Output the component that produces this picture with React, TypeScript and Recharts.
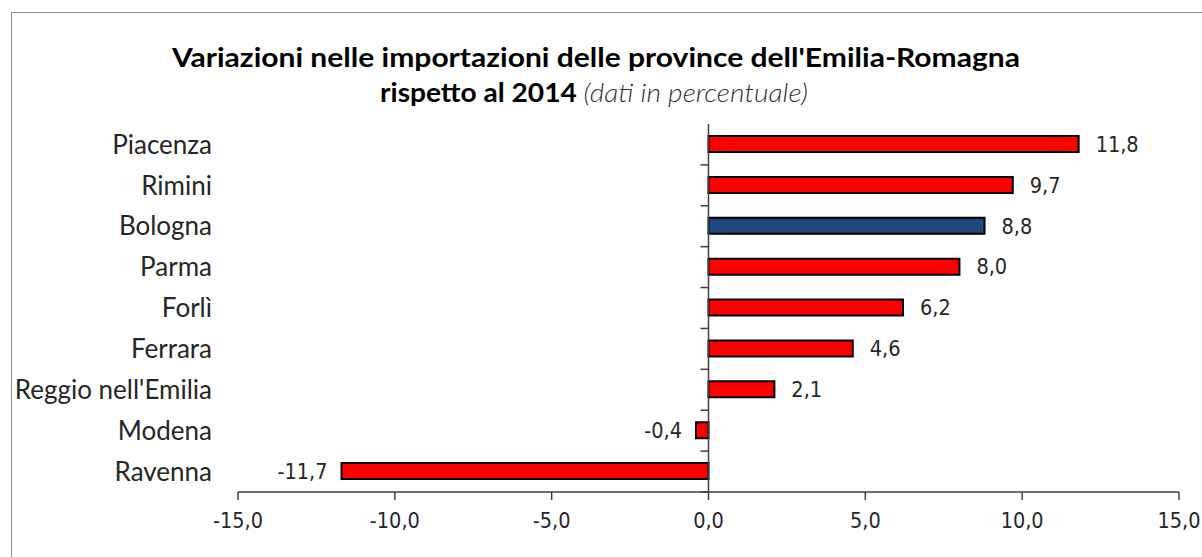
import { BarChart, Bar, XAxis, YAxis, ReferenceLine, Cell, LabelList } from "recharts";

const categories = ["Piacenza", "Rimini", "Bologna", "Parma", "Forlì", "Ferrara", "Reggio nell'Emilia", "Modena", "Ravenna"];
const values = [11.8, 9.7, 8.8, 8.0, 6.2, 4.6, 2.1, -0.4, -11.7];
const highlighted = "Bologna";
const xTicks = [-15, -10, -5, 0, 5, 10, 15];

const data = categories.map((name, i) => ({ name, value: values[i] }));

const fmt = (v: number) => v.toFixed(1).replace(".", ",");
const numFont = "'DejaVu Sans Condensed', 'DejaVu Sans', sans-serif";

function ZeroLine(props: any) {
  const { x1, y1, x2, y2 } = props;
  const n = categories.length;
  const step = (y2 - y1) / n;
  return (
    <g>
      <line x1={x1} y1={y1} x2={x2} y2={y2} stroke="#404040" strokeWidth={1.5} />
      {categories.map((_, i) => (
        <line key={i} x1={x1 - 8} x2={x1} y1={y1 + i * step} y2={y1 + i * step} stroke="#404040" strokeWidth={1.5} />
      ))}
    </g>
  );
}

function ValueLabel(props: any) {
  const { x, y, width, height, value } = props;
  const left = Math.min(x, x + width);
  const right = Math.max(x, x + width);
  const neg = value < 0;
  return (
    <text
      x={neg ? left - 14 : right + 17}
      y={y + height / 2}
      dy="0.36em"
      textAnchor={neg ? "end" : "start"}
      fontFamily={numFont}
      fontSize={21.5}
      fill="#262626"
    >
      {fmt(value)}
    </text>
  );
}

export default function App() {
  return (
    <div style={{ position: "absolute", left: 0, top: 0, width: 1202, height: 557, overflow: "hidden", background: "#fff" }}>
      <div
        style={{
          position: "absolute",
          left: 11,
          top: 12,
          width: 1300,
          height: 700,
          border: "1.5px solid #8c8c8c",
        }}
      />
      <svg style={{ position: "absolute", left: 0, top: 0 }} width={1202} height={120}>
        <text
          x={596}
          y={67}
          textAnchor="middle"
          fontFamily="Lato, sans-serif"
          fontWeight={700}
          fontSize={26}
          fill="#000"
          textLength={848}
          lengthAdjust="spacingAndGlyphs"
        >
          Variazioni nelle importazioni delle province dell'Emilia-Romagna
        </text>
        <text
          x={594}
          y={102}
          textAnchor="middle"
          fontFamily="Lato, sans-serif"
          fontSize={26}
          fill="#000"
          textLength={428}
          lengthAdjust="spacingAndGlyphs"
        >
          <tspan fontWeight={700}>rispetto al 2014 </tspan>
          <tspan fontStyle="italic" fontWeight={300} fill="#333">(dati in percentuale)</tspan>
        </text>
      </svg>
      <div style={{ position: "absolute", left: 0, top: 0 }}>
        <BarChart
          width={1202}
          height={557}
          data={data}
          layout="vertical"
          margin={{ top: 124, right: 23, bottom: 20, left: 0 }}
        >
          <XAxis
            type="number"
            domain={[-15, 15]}
            ticks={xTicks}
            tickFormatter={fmt}
            height={45}
            axisLine={{ stroke: "#404040", strokeWidth: 1.5 }}
            tickLine={{ stroke: "#404040", strokeWidth: 1.5 }}
            tickSize={8}
            tickMargin={13}
            tick={{ fontFamily: numFont, fontSize: 21.5, fill: "#262626" }}
          />
          <YAxis
            type="category"
            dataKey="name"
            width={238}
            axisLine={false}
            tickLine={false}
            tickSize={0}
            tickMargin={26}
            interval={0}
            tick={{ fontFamily: "Lato, sans-serif", fontSize: 26, fill: "#262626" }}
          />
          <ReferenceLine x={0} shape={ZeroLine} />
          <Bar dataKey="value" barSize={16} stroke="#000" strokeWidth={2} isAnimationActive={false}>
            {data.map((d) => (
              <Cell key={d.name} fill={d.name === highlighted ? "#1f487c" : "#ff0000"} />
            ))}
            <LabelList dataKey="value" content={ValueLabel} />
          </Bar>
        </BarChart>
      </div>
    </div>
  );
}
